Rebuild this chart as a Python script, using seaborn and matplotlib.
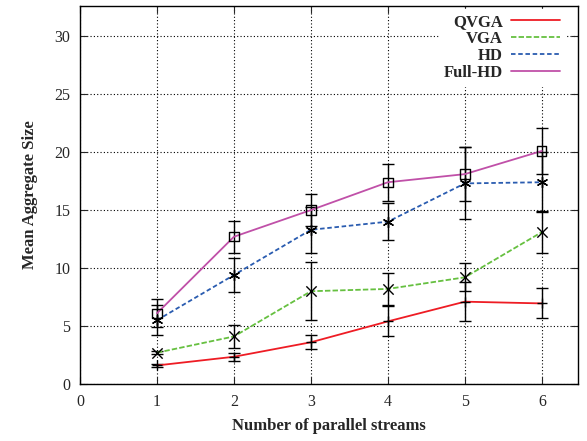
import numpy as np
import pandas as pd
import matplotlib
matplotlib.use("Agg")
import matplotlib.pyplot as plt
import seaborn as sns

# data
streams = [1, 2, 3, 4, 5, 6]
qvga = [1.6, 2.35, 3.6, 5.4, 7.1, 6.95]
qvga_err = [0.1, 0.35, 0.6, 1.3, 1.7, 1.3]
vga = [2.7, 4.1, 8.0, 8.2, 9.2, 13.1]
vga_err = [0.15, 1.0, 2.5, 1.4, 1.2, 1.8]
hd = [5.5, 9.4, 13.3, 14.0, 17.3, 17.4]
hd_err = [1.3, 1.5, 2.0, 1.6, 3.1, 2.6]
fullhd = [6.1, 12.7, 15.0, 17.4, 18.1, 20.1]
fullhd_err = [1.2, 1.4, 1.4, 1.6, 2.3, 2.0]

series = {"QVGA": (qvga, qvga_err), "VGA": (vga, vga_err),
          "HD": (hd, hd_err), "Full-HD": (fullhd, fullhd_err)}
colors = {"QVGA": "#ee1c24", "VGA": "#66c040", "HD": "#2a5cb0", "Full-HD": "#c050a8"}
markers = {"QVGA": "+", "VGA": "x", "HD": (6, 2, 0), "Full-HD": "s"}
styles = {"QVGA": "-", "VGA": (0, (3, 1.2)), "HD": (0, (2.5, 1.5)), "Full-HD": "-"}

rows = []
for name, (vals, errs) in series.items():
    for x, v, e in zip(streams, vals, errs):
        rows.append({"streams": x, "size": v, "err": e, "res": name})
df = pd.DataFrame(rows)

sns.set_style("ticks")
plt.rcParams["font.family"] = ["Liberation Serif", "DejaVu Serif"]
plt.rcParams["xtick.direction"] = "in"
plt.rcParams["ytick.direction"] = "in"

fig = plt.figure(figsize=(5.87, 4.41), dpi=100)
ax = fig.add_axes([80 / 587, 57 / 441, 498 / 587, 378 / 441])

ax.grid(True, color="black", linestyle=(0, (1, 2)), linewidth=0.8)
ax.set_axisbelow(True)

for name in series:
    sub = df[df["res"] == name]
    ax.errorbar(sub["streams"], sub["size"], yerr=sub["err"], fmt="none",
                ecolor="black", elinewidth=1.0, capsize=4, capthick=1.0, zorder=3)
    sns.lineplot(data=sub, x="streams", y="size", ax=ax, color=colors[name],
                 linestyle=styles[name], linewidth=1.3, label=name, zorder=4)
    ax.scatter(sub["streams"], sub["size"], marker=markers[name],
               s=55 if name != "Full-HD" else 45,
               facecolors="none" if name == "Full-HD" else "black",
               edgecolors="black", linewidths=1.0, zorder=5)

ax.set_xlim(0, 6.47)
ax.set_ylim(0, 32.6)
ax.set_xticks(range(0, 7))
ax.set_yticks(range(0, 31, 5))
ax.tick_params(top=True, right=True, labelsize=11.5, length=5, width=0.8, pad=7)
for s in ax.spines.values():
    s.set_linewidth(1.0)
    s.set_color("black")

ax.set_xlabel("Number of parallel streams", fontsize=12, fontweight="bold", labelpad=6)
ax.set_ylabel("Mean Aggregate Size", fontsize=12, fontweight="bold", labelpad=12)

leg = ax.legend(loc="upper right", bbox_to_anchor=(0.98, 1.0), frameon=True,
                fancybox=False, edgecolor="white", framealpha=1, markerfirst=False,
                handlelength=2.9, fontsize=12, borderaxespad=0.2, borderpad=0.3,
                labelspacing=0.05, handletextpad=0.5)
for t in leg.get_texts():
    t.set_fontweight("bold")
    t.set_ha("right")
leg._legend_box.align = "right"

fig.savefig("out.png", dpi=100)
